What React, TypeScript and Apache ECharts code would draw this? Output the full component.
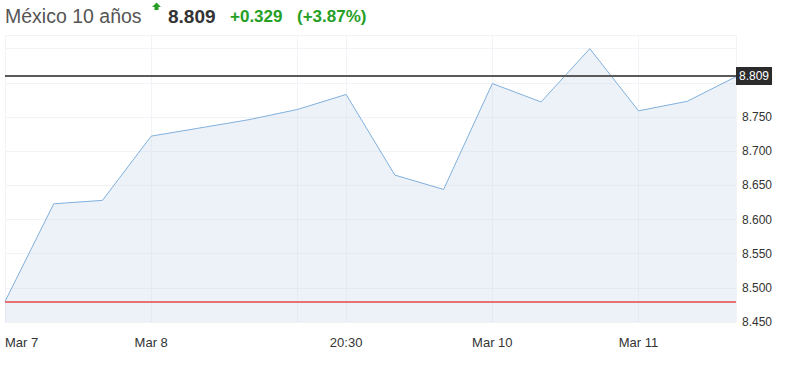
import React, { useEffect, useRef } from "react";
import * as echarts from "echarts";

// ---- data ----
const xLabels = ["Mar 7", "", "", "Mar 8", "", "", "", "20:30", "", "", "Mar 10", "", "", "Mar 11", "", ""];
const yields = [8.48, 8.623, 8.628, 8.722, 8.734, 8.746, 8.761, 8.783, 8.665, 8.644, 8.799, 8.772, 8.85, 8.759, 8.773, 8.809];
const verticalGridIdx = [0, 3, 6, 7, 10, 13, 15];
const lastValue = 8.809;
const prevClose = 8.48;
const yMin = 8.45;
const yMax = 8.87;
const yStep = 0.05;
const titleName = "México 10 años";
const titlePrice = "8.809";
const titleChange = "+0.329";
const titlePct = "(+3.87%)";

const FONT = '"Liberation Sans", Arial, sans-serif';
const GREEN = "#25a025";

export default function App() {
  const ref = useRef<HTMLDivElement>(null);
  useEffect(() => {
    if (!ref.current) return;
    const chart = echarts.init(ref.current, undefined, { renderer: "svg" });
    chart.setOption({
      animation: false,
      grid: { left: 5, right: 50, top: 35, bottom: 51, containLabel: false },
      graphic: [
        { type: "text", x: 5, y: 16, style: { text: titleName, font: `19.5px ${FONT}`, fill: "#555", verticalAlign: "middle" } },
        { type: "polygon", shape: { points: [[152, 7], [156.5, 2.5], [161, 7], [158.5, 7], [158.5, 10], [154.5, 10], [154.5, 7]] }, style: { fill: GREEN } },
        { type: "text", x: 168, y: 16, style: { text: titlePrice, font: `bold 19px ${FONT}`, fill: "#333", verticalAlign: "middle" } },
        { type: "text", x: 230, y: 16.5, style: { text: titleChange, font: `bold 17px ${FONT}`, fill: GREEN, verticalAlign: "middle" } },
        { type: "text", x: 297, y: 16.5, style: { text: titlePct, font: `bold 17px ${FONT}`, fill: GREEN, verticalAlign: "middle" } },
      ],
      xAxis: {
        type: "category",
        data: xLabels,
        boundaryGap: false,
        axisLine: { show: false },
        axisTick: { show: false },
        axisLabel: {
          interval: (i: number, v: string) => v !== "",
          color: "#333",
          fontSize: 13,
          fontFamily: FONT,
          margin: 14,
          alignMinLabel: "left",
        },
        splitLine: {
          show: true,
          interval: (i: number) => verticalGridIdx.includes(i),
          lineStyle: { color: "#f1f3f6", width: 1 },
        },
      },
      yAxis: {
        type: "value",
        position: "right",
        min: yMin,
        max: yMax,
        interval: yStep,
        axisLine: { show: false },
        axisTick: { show: false },
        axisLabel: {
          color: "#333",
          fontSize: 12,
          fontFamily: FONT,
          margin: 6,
          formatter: (v: number) => (v <= 8.76 ? v.toFixed(3) : ""),
        },
        splitLine: { show: true, lineStyle: { color: "#f1f3f6", width: 1 } },
      },
      series: [
        {
          type: "line",
          data: yields,
          symbol: "none",
          lineStyle: { color: "#80b0dc", width: 1 },
          areaStyle: { color: "rgba(200,218,236,0.5)" },
          markLine: {
            silent: true,
            symbol: "none",
            data: [
              {
                yAxis: lastValue,
                lineStyle: { color: "#5a5a5a", width: 2, type: "solid" },
                label: {
                  show: true,
                  position: "end",
                  distance: 0,
                  formatter: lastValue.toFixed(3),
                  color: "#fff",
                  backgroundColor: "#2b2b2b",
                  padding: [3, 3, 3, 3],
                  fontSize: 12,
                  fontFamily: FONT,
                },
              },
              {
                yAxis: prevClose,
                lineStyle: { color: "#e57373", width: 2, type: "solid" },
                label: { show: false },
              },
            ],
          },
        },
      ],
    });
    return () => chart.dispose();
  }, []);
  return <div ref={ref} style={{ position: "absolute", left: 0, top: 0, width: 786, height: 373 }} />;
}
